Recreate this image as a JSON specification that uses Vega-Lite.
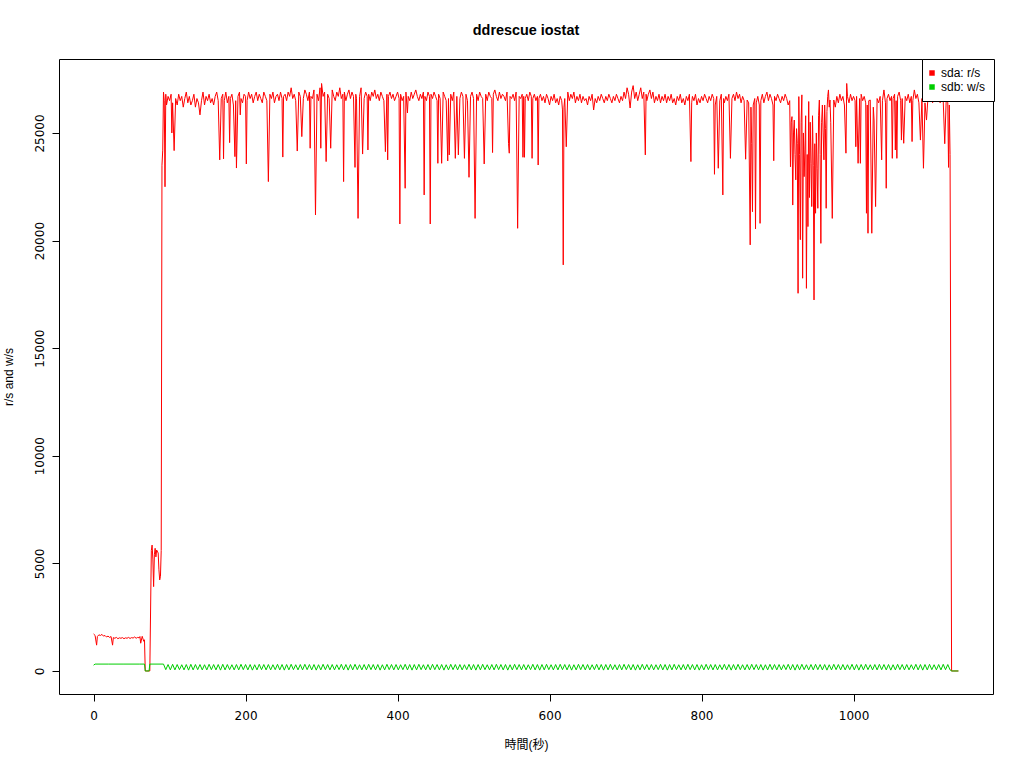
{
"$schema":"https://vega.github.io/schema/vega-lite/v6.json",
"width":934,"height":635,
"autosize":{"type":"none"},
"padding":{"left":59,"top":59,"right":31,"bottom":74},
"background":"white",
"title":{"text":"ddrescue iostat","font":"Liberation Sans","fontSize":14.4,"fontWeight":"bold","color":"black","anchor":"middle","frame":"group","baseline":"alphabetic","offset":9},
"config":{"view":{"stroke":"black","strokeWidth":1},
"axis":{"domain":false,"grid":false,"ticks":true,"tickColor":"black","tickSize":7,"tickWidth":1,"labelFont":"DejaVu Sans","labelFontSize":12,"labelColor":"black","titleFont":"Liberation Sans, Noto Sans CJK JP, sans-serif","titleFontSize":12,"titleFontWeight":"normal","titleColor":"black"}},
"data":{"values":[
{"t":0,"a":1720},{"t":2,"a":1650},{"t":4,"a":1200},{"t":5,"a":1600},{"t":7,"a":1680},{"t":9,"a":1650},{"t":11,"a":1700},{"t":13,"a":1620},{"t":15,"a":1650},{"t":17,"a":1580},{"t":19,"a":1620},{"t":21,"a":1560},{"t":23,"a":1600},{"t":25,"a":1200},{"t":26,"a":1550},{"t":28,"a":1520},{"t":30,"a":1560},{"t":32,"a":1500},{"t":34,"a":1540},{"t":36,"a":1520},{"t":38,"a":1550},{"t":40,"a":1500},{"t":42,"a":1540},{"t":44,"a":1520},{"t":46,"a":1560},{"t":48,"a":1510},{"t":50,"a":1550},{"t":52,"a":1530},{"t":54,"a":1580},{"t":56,"a":1520},{"t":58,"a":1560},{"t":60,"a":1540},{"t":61,"a":1600},{"t":62,"a":1290},{"t":64,"a":1610},{"t":66,"a":1380},{"t":67,"a":1450},{"t":68,"a":0},{"t":70,"a":0},{"t":72,"a":0},{"t":74,"a":0},{"t":76,"a":5600},{"t":77,"a":5850},{"t":78,"a":5200},{"t":79,"a":3920},{"t":80,"a":5400},{"t":81,"a":5700},{"t":82,"a":5300},{"t":83,"a":5620},{"t":85,"a":5480},{"t":86,"a":4700},{"t":87,"a":4230},{"t":88,"a":4400},{"t":89,"a":5600},{"t":90,"a":23500},{"t":91,"a":24200},{"t":92,"a":26900},{"t":93,"a":26500},{"t":94,"a":22500},{"t":95,"a":26800},
{"t":96,"a":26300},{"t":98,"a":26700},{"t":100,"a":26500},{"t":102,"a":26800},{"t":103,"a":25000},{"t":104,"a":26400},{"t":106,"a":24180},{"t":108,"a":26600},{"t":110,"a":26300},{"t":112,"a":26800},{"t":114,"a":26500},{"t":116,"a":26700},{"t":118,"a":26200},{"t":120,"a":26600},{"t":122,"a":26900},{"t":124,"a":26400},{"t":126,"a":26700},{"t":128,"a":26300},{"t":130,"a":26500},{"t":132,"a":26800},{"t":134,"a":26200},{"t":136,"a":26600},{"t":138,"a":26400},{"t":140,"a":25840},{"t":142,"a":26500},{"t":144,"a":26900},{"t":146,"a":26300},{"t":148,"a":26700},{"t":150,"a":26500},{"t":152,"a":26800},{"t":154,"a":26400},{"t":156,"a":26600},{"t":158,"a":26300},{"t":160,"a":26700},{"t":162,"a":26900},{"t":164,"a":26500},{"t":166,"a":23750},{"t":168,"a":26600},{"t":170,"a":26800},{"t":171,"a":23800},{"t":172,"a":26500},{"t":174,"a":26900},{"t":176,"a":26400},{"t":178,"a":26700},{"t":179,"a":24550},{"t":180,"a":26600},{"t":182,"a":26800},{"t":184,"a":26300},{"t":186,"a":23900},{"t":187,"a":26500},{"t":188,"a":23370},{"t":190,"a":26700},{"t":192,"a":26900},{"t":193,"a":25840},{"t":194,"a":26600},{"t":196,"a":26400},{"t":198,"a":26800},{"t":200,"a":26700},{"t":201,"a":23560},{"t":202,"a":26500},{"t":204,"a":26900},{"t":206,"a":26600},{"t":208,"a":26800},{"t":210,"a":26400},{"t":212,"a":26700},{"t":214,"a":26900},{"t":216,"a":26500},{"t":218,"a":26800},{"t":220,"a":26600},{"t":222,"a":26400},{"t":224,"a":26900},{"t":226,"a":26700},{"t":228,"a":26500},{"t":230,"a":22740},{"t":232,"a":26800},{"t":234,"a":26600},{"t":236,"a":26900},{"t":238,"a":26400},{"t":240,"a":26700},{"t":242,"a":26800},{"t":244,"a":26500},{"t":246,"a":26900},{"t":248,"a":26600},{"t":249,"a":23880},{"t":250,"a":26700},{"t":252,"a":26800},{"t":254,"a":26500},{"t":256,"a":26900},{"t":258,"a":26700},{"t":260,"a":27100},{"t":262,"a":26600},{"t":264,"a":26800},{"t":266,"a":26500},{"t":268,"a":24160},{"t":270,"a":26900},{"t":272,"a":26700},{"t":274,"a":24830},{"t":276,"a":26600},{"t":278,"a":27000},{"t":280,"a":26800},{"t":282,"a":26500},{"t":284,"a":26900},{"t":285,"a":24290},{"t":286,"a":26700},{"t":288,"a":26600},{"t":290,"a":27000},{"t":292,"a":21190},{"t":294,"a":26800},{"t":296,"a":26500},{"t":298,"a":27100},{"t":299,"a":24290},{"t":300,"a":27300},{"t":302,"a":26700},{"t":304,"a":26900},{"t":306,"a":23670},{"t":308,"a":26800},{"t":310,"a":26600},{"t":312,"a":24290},{"t":314,"a":27000},{"t":316,"a":26700},{"t":318,"a":26500},{"t":320,"a":26900},{"t":322,"a":26700},{"t":324,"a":27100},{"t":326,"a":26600},{"t":328,"a":26800},{"t":329,"a":22740},{"t":330,"a":26900},{"t":332,"a":26500},{"t":334,"a":26800},{"t":336,"a":27000},{"t":338,"a":26600},{"t":340,"a":26900},{"t":342,"a":26700},{"t":344,"a":23400},{"t":345,"a":26800},{"t":346,"a":26600},{"t":348,"a":21030},{"t":350,"a":26700},{"t":352,"a":27100},{"t":354,"a":24020},{"t":356,"a":26600},{"t":358,"a":26900},{"t":360,"a":26700},{"t":361,"a":24210},{"t":362,"a":26800},{"t":364,"a":26500},{"t":366,"a":26900},{"t":368,"a":26700},{"t":370,"a":27000},{"t":372,"a":26600},{"t":374,"a":26800},{"t":376,"a":26500},{"t":378,"a":26900},{"t":380,"a":26700},{"t":382,"a":26500},{"t":384,"a":24130},{"t":386,"a":26800},{"t":387,"a":23750},{"t":388,"a":26700},{"t":390,"a":26900},{"t":392,"a":26600},{"t":394,"a":26800},{"t":396,"a":26500},{"t":398,"a":26700},{"t":400,"a":26900},{"t":402,"a":26600},{"t":403,"a":20770},{"t":404,"a":26800},{"t":406,"a":26500},{"t":408,"a":26700},{"t":410,"a":22430},{"t":411,"a":26900},{"t":413,"a":25930},{"t":414,"a":26700},{"t":416,"a":26500},{"t":418,"a":26900},{"t":420,"a":26600},{"t":422,"a":26800},{"t":424,"a":27000},{"t":426,"a":26700},{"t":428,"a":26500},{"t":430,"a":26800},{"t":432,"a":26600},{"t":434,"a":26900},{"t":435,"a":22120},{"t":436,"a":26700},{"t":438,"a":26500},{"t":440,"a":26900},{"t":442,"a":26700},{"t":443,"a":20770},{"t":444,"a":26800},{"t":446,"a":26600},{"t":448,"a":26900},{"t":450,"a":26700},{"t":452,"a":26500},{"t":453,"a":23590},{"t":454,"a":26800},{"t":456,"a":26600},{"t":458,"a":23590},{"t":460,"a":26900},{"t":462,"a":26700},{"t":464,"a":26500},{"t":466,"a":23700},{"t":467,"a":26600},{"t":468,"a":23980},{"t":470,"a":26800},{"t":472,"a":26500},{"t":474,"a":26900},{"t":476,"a":23820},{"t":478,"a":26700},{"t":480,"a":23980},{"t":482,"a":26600},{"t":484,"a":26900},{"t":486,"a":26700},{"t":488,"a":23820},{"t":490,"a":26800},{"t":492,"a":26500},{"t":494,"a":22940},{"t":496,"a":26700},{"t":498,"a":26900},{"t":500,"a":26600},{"t":502,"a":21030},{"t":504,"a":26800},{"t":506,"a":26500},{"t":508,"a":26900},{"t":510,"a":26700},{"t":512,"a":26600},{"t":514,"a":23560},{"t":516,"a":26800},{"t":518,"a":26500},{"t":520,"a":26900},{"t":522,"a":26700},{"t":524,"a":26600},{"t":525,"a":24090},{"t":526,"a":26800},{"t":528,"a":27000},{"t":530,"a":26700},{"t":532,"a":26500},{"t":534,"a":26900},{"t":536,"a":26600},{"t":538,"a":26800},{"t":540,"a":26700},{"t":542,"a":26500},{"t":544,"a":26900},{"t":546,"a":24520},{"t":547,"a":24060},{"t":548,"a":26700},{"t":550,"a":26600},{"t":552,"a":26800},{"t":554,"a":26500},{"t":556,"a":26900},{"t":558,"a":20570},{"t":560,"a":26700},{"t":562,"a":26600},{"t":564,"a":26800},{"t":565,"a":23870},{"t":566,"a":26700},{"t":567,"a":23870},{"t":568,"a":26600},{"t":570,"a":26800},{"t":572,"a":26500},{"t":574,"a":26900},{"t":576,"a":26700},{"t":577,"a":23820},{"t":578,"a":26600},{"t":580,"a":26800},{"t":582,"a":26500},{"t":584,"a":26700},{"t":585,"a":23510},{"t":586,"a":26600},{"t":588,"a":26800},{"t":590,"a":26500},{"t":592,"a":26700},{"t":594,"a":26400},{"t":596,"a":26800},{"t":598,"a":26600},{"t":600,"a":26300},{"t":602,"a":26700},{"t":604,"a":26500},{"t":606,"a":26800},{"t":608,"a":26400},{"t":610,"a":26600},{"t":612,"a":26300},{"t":614,"a":26700},{"t":616,"a":26500},{"t":617,"a":26070},{"t":618,"a":18870},{"t":619,"a":26200},{"t":620,"a":26600},{"t":622,"a":24360},{"t":624,"a":26900},{"t":626,"a":26500},{"t":628,"a":26800},{"t":630,"a":26600},{"t":632,"a":26900},{"t":634,"a":26400},{"t":636,"a":26700},{"t":638,"a":26500},{"t":640,"a":26800},{"t":642,"a":26400},{"t":644,"a":26700},{"t":646,"a":26500},{"t":648,"a":26600},{"t":650,"a":26300},{"t":652,"a":26700},{"t":654,"a":26500},{"t":656,"a":26800},{"t":658,"a":26070},{"t":660,"a":26600},{"t":662,"a":26400},{"t":664,"a":26700},{"t":666,"a":26500},{"t":668,"a":26800},{"t":670,"a":26600},{"t":672,"a":26400},{"t":674,"a":26700},{"t":676,"a":26500},{"t":678,"a":26800},{"t":680,"a":26600},{"t":682,"a":26400},{"t":684,"a":26700},{"t":686,"a":26500},{"t":688,"a":26800},{"t":690,"a":26600},{"t":692,"a":26400},{"t":694,"a":26700},{"t":696,"a":26500},{"t":698,"a":26900},{"t":700,"a":26600},{"t":702,"a":27100},{"t":704,"a":26800},{"t":706,"a":26160},{"t":708,"a":26900},{"t":710,"a":27200},{"t":712,"a":26600},{"t":714,"a":26900},{"t":716,"a":26500},{"t":718,"a":26800},{"t":720,"a":27100},{"t":722,"a":26600},{"t":724,"a":26900},{"t":726,"a":23980},{"t":727,"a":26800},{"t":728,"a":26500},{"t":730,"a":26800},{"t":732,"a":27000},{"t":734,"a":26600},{"t":736,"a":26900},{"t":738,"a":26400},{"t":740,"a":26700},{"t":742,"a":26500},{"t":744,"a":26800},{"t":746,"a":26400},{"t":748,"a":26700},{"t":750,"a":26500},{"t":752,"a":26800},{"t":754,"a":26400},{"t":756,"a":26700},{"t":758,"a":26500},{"t":760,"a":26800},{"t":762,"a":26400},{"t":764,"a":26600},{"t":766,"a":26300},{"t":768,"a":26700},{"t":770,"a":26500},{"t":772,"a":26800},{"t":774,"a":26400},{"t":776,"a":26600},{"t":778,"a":26300},{"t":780,"a":26700},{"t":782,"a":26500},{"t":784,"a":26800},{"t":786,"a":23670},{"t":787,"a":26400},{"t":788,"a":26700},{"t":790,"a":26500},{"t":792,"a":26800},{"t":794,"a":26300},{"t":796,"a":26600},{"t":798,"a":26400},{"t":800,"a":26700},{"t":802,"a":26500},{"t":804,"a":26800},{"t":806,"a":26600},{"t":808,"a":26400},{"t":810,"a":26700},{"t":812,"a":26500},{"t":814,"a":26800},{"t":816,"a":26600},{"t":817,"a":23080},{"t":818,"a":26300},{"t":820,"a":26700},{"t":822,"a":23360},{"t":824,"a":26500},{"t":826,"a":26800},{"t":828,"a":22120},{"t":829,"a":26600},{"t":830,"a":26400},{"t":832,"a":26700},{"t":834,"a":26500},{"t":836,"a":26800},{"t":838,"a":23820},{"t":840,"a":26600},{"t":842,"a":26800},{"t":844,"a":26500},{"t":846,"a":26900},{"t":848,"a":26600},{"t":850,"a":26800},{"t":852,"a":26400},{"t":854,"a":26700},{"t":856,"a":26500},{"t":858,"a":23780},{"t":860,"a":26530},{"t":862,"a":26400},{"t":864,"a":19800},{"t":865,"a":26200},{"t":866,"a":24520},{"t":867,"a":21340},{"t":868,"a":26300},{"t":870,"a":26600},{"t":871,"a":20540},{"t":872,"a":26400},{"t":874,"a":26700},{"t":876,"a":26300},{"t":877,"a":20800},{"t":878,"a":26500},{"t":880,"a":26800},{"t":882,"a":26400},{"t":884,"a":26700},{"t":886,"a":26900},{"t":888,"a":26500},{"t":890,"a":26800},{"t":892,"a":26600},{"t":894,"a":26300},{"t":895,"a":23710},{"t":896,"a":26700},{"t":898,"a":26500},{"t":900,"a":26800},{"t":902,"a":26600},{"t":904,"a":26400},{"t":906,"a":26700},{"t":908,"a":26500},{"t":910,"a":26800},{"t":912,"a":26600},{"t":914,"a":26300},{"t":916,"a":26500},{"t":917,"a":23430},{"t":918,"a":25500},{"t":919,"a":25760},{"t":920,"a":21650},{"t":921,"a":25000},{"t":922,"a":25600},{"t":923,"a":24000},{"t":924,"a":22820},{"t":925,"a":25200},{"t":926,"a":24500},{"t":927,"a":17550},{"t":928,"a":26690},{"t":929,"a":24000},{"t":930,"a":20040},{"t":931,"a":25500},{"t":932,"a":26770},{"t":933,"a":18250},{"t":934,"a":25000},{"t":935,"a":22970},{"t":936,"a":24210},{"t":937,"a":25800},{"t":938,"a":17780},{"t":939,"a":24000},{"t":940,"a":20650},{"t":941,"a":26460},{"t":942,"a":22000},{"t":943,"a":25500},{"t":944,"a":23590},{"t":945,"a":21580},{"t":946,"a":25800},{"t":947,"a":23500},{"t":948,"a":17240},{"t":949,"a":24500},{"t":950,"a":21270},{"t":951,"a":25000},{"t":952,"a":23360},{"t":953,"a":21500},{"t":954,"a":25800},{"t":955,"a":26530},{"t":956,"a":24000},{"t":957,"a":19870},{"t":958,"a":25500},{"t":959,"a":26300},{"t":960,"a":25000},{"t":961,"a":23750},{"t":962,"a":26300},{"t":963,"a":25200},{"t":964,"a":21500},{"t":965,"a":26000},{"t":966,"a":26700},{"t":967,"a":27000},{"t":968,"a":26200},{"t":969,"a":26530},{"t":970,"a":25500},{"t":972,"a":21030},{"t":974,"a":26530},{"t":976,"a":26200},{"t":978,"a":26700},{"t":980,"a":26400},{"t":982,"a":26800},{"t":984,"a":26500},{"t":986,"a":26700},{"t":988,"a":26300},{"t":990,"a":24060},{"t":991,"a":27300},{"t":992,"a":26700},{"t":994,"a":26400},{"t":996,"a":26800},{"t":998,"a":26500},{"t":1000,"a":26700},{"t":1002,"a":26500},{"t":1003,"a":24360},{"t":1004,"a":26700},{"t":1006,"a":23590},{"t":1008,"a":26600},{"t":1009,"a":23590},{"t":1010,"a":26800},{"t":1012,"a":26500},{"t":1014,"a":26700},{"t":1016,"a":26400},{"t":1017,"a":21270},{"t":1018,"a":26300},{"t":1019,"a":20340},{"t":1020,"a":26500},{"t":1022,"a":26530},{"t":1024,"a":20340},{"t":1026,"a":26200},{"t":1027,"a":25600},{"t":1029,"a":21580},{"t":1031,"a":26600},{"t":1033,"a":26400},{"t":1035,"a":26700},{"t":1037,"a":23750},{"t":1038,"a":26500},{"t":1040,"a":27000},{"t":1042,"a":26400},{"t":1043,"a":22430},{"t":1044,"a":26600},{"t":1046,"a":26800},{"t":1048,"a":26500},{"t":1050,"a":26700},{"t":1051,"a":23820},{"t":1052,"a":26600},{"t":1054,"a":26800},{"t":1055,"a":24210},{"t":1056,"a":26500},{"t":1057,"a":23820},{"t":1058,"a":26700},{"t":1060,"a":26900},{"t":1062,"a":26500},{"t":1063,"a":24670},{"t":1064,"a":26600},{"t":1066,"a":24520},{"t":1068,"a":26700},{"t":1070,"a":26500},{"t":1072,"a":26800},{"t":1074,"a":26400},{"t":1076,"a":26700},{"t":1077,"a":24600},{"t":1078,"a":26500},{"t":1080,"a":27000},{"t":1082,"a":26600},{"t":1084,"a":26800},{"t":1086,"a":26400},{"t":1088,"a":24670},{"t":1090,"a":26600},{"t":1092,"a":23360},{"t":1094,"a":26400},{"t":1096,"a":25600},{"t":1098,"a":26700},{"t":1100,"a":26500},{"t":1102,"a":26800},{"t":1104,"a":26400},{"t":1106,"a":26700},{"t":1108,"a":26500},{"t":1110,"a":26800},{"t":1112,"a":26600},{"t":1114,"a":26400},{"t":1116,"a":26700},{"t":1118,"a":26500},{"t":1120,"a":24500},{"t":1122,"a":26600},{"t":1124,"a":26400},{"t":1125,"a":23400},{"t":1126,"a":26300},{"t":1127,"a":24000},{"t":1129,"a":0},{"t":1131,"a":0},{"t":1138,"a":0},
{"t":0,"b":270},{"t":2,"b":320},{"t":20,"b":320},{"t":40,"b":320},{"t":60,"b":320},{"t":67,"b":320},{"t":68,"b":0},{"t":73,"b":0},{"t":74,"b":320},{"t":92,"b":320},
{"t":95,"b":60},{"t":98,"b":300},{"t":101,"b":50},{"t":104,"b":310},{"t":107,"b":50},{"t":110,"b":300},{"t":113,"b":60},{"t":116,"b":290},{"t":119,"b":50},{"t":122,"b":300},{"t":125,"b":40},{"t":128,"b":310},{"t":131,"b":50},{"t":134,"b":300},{"t":137,"b":60},{"t":140,"b":300},{"t":143,"b":50},{"t":146,"b":290},{"t":149,"b":50},{"t":152,"b":310},{"t":155,"b":60},{"t":158,"b":300},{"t":161,"b":50},{"t":164,"b":300},{"t":167,"b":40},{"t":170,"b":310},{"t":173,"b":50},{"t":176,"b":300},{"t":179,"b":60},{"t":182,"b":290},{"t":185,"b":50},{"t":188,"b":300},{"t":191,"b":50},{"t":194,"b":310},{"t":197,"b":60},{"t":200,"b":300},{"t":203,"b":50},{"t":206,"b":300},{"t":209,"b":40},{"t":212,"b":290},{"t":215,"b":50},{"t":218,"b":310},{"t":221,"b":60},{"t":224,"b":300},{"t":227,"b":50},{"t":230,"b":300},{"t":233,"b":50},{"t":236,"b":290},{"t":239,"b":60},{"t":242,"b":310},{"t":245,"b":50},{"t":248,"b":300},{"t":251,"b":40},{"t":254,"b":300},{"t":257,"b":50},{"t":260,"b":310},{"t":263,"b":60},{"t":266,"b":290},{"t":269,"b":50},{"t":272,"b":300},{"t":275,"b":50},{"t":278,"b":310},{"t":281,"b":60},{"t":284,"b":300},{"t":287,"b":50},{"t":290,"b":300},{"t":293,"b":40},{"t":296,"b":290},{"t":299,"b":50},{"t":302,"b":310},{"t":305,"b":60},{"t":308,"b":300},{"t":311,"b":50},{"t":314,"b":300},{"t":317,"b":50},{"t":320,"b":290},{"t":323,"b":60},{"t":326,"b":310},{"t":329,"b":50},{"t":332,"b":300},{"t":335,"b":40},{"t":338,"b":300},{"t":341,"b":50},{"t":344,"b":310},{"t":347,"b":60},{"t":350,"b":290},{"t":353,"b":50},{"t":356,"b":300},{"t":359,"b":50},{"t":362,"b":310},{"t":365,"b":60},{"t":368,"b":300},{"t":371,"b":50},{"t":374,"b":300},{"t":377,"b":40},{"t":380,"b":290},{"t":383,"b":50},{"t":386,"b":310},{"t":389,"b":60},{"t":392,"b":300},{"t":395,"b":50},{"t":398,"b":300},{"t":401,"b":50},{"t":404,"b":290},{"t":407,"b":60},{"t":410,"b":310},{"t":413,"b":50},{"t":416,"b":300},{"t":419,"b":40},{"t":422,"b":300},{"t":425,"b":50},{"t":428,"b":310},{"t":431,"b":60},{"t":434,"b":290},{"t":437,"b":50},{"t":440,"b":300},{"t":443,"b":50},{"t":446,"b":310},{"t":449,"b":60},{"t":452,"b":300},{"t":455,"b":50},{"t":458,"b":300},{"t":461,"b":40},{"t":464,"b":290},{"t":467,"b":50},{"t":470,"b":310},{"t":473,"b":60},{"t":476,"b":300},{"t":479,"b":50},{"t":482,"b":300},{"t":485,"b":50},{"t":488,"b":290},{"t":491,"b":60},{"t":494,"b":310},{"t":497,"b":50},{"t":500,"b":300},{"t":503,"b":40},{"t":506,"b":300},{"t":509,"b":50},{"t":512,"b":310},{"t":515,"b":60},{"t":518,"b":290},{"t":521,"b":50},{"t":524,"b":300},{"t":527,"b":50},{"t":530,"b":310},{"t":533,"b":60},{"t":536,"b":300},{"t":539,"b":50},{"t":542,"b":300},{"t":545,"b":40},{"t":548,"b":290},{"t":551,"b":50},{"t":554,"b":310},{"t":557,"b":60},{"t":560,"b":300},{"t":563,"b":50},{"t":566,"b":300},{"t":569,"b":50},{"t":572,"b":290},{"t":575,"b":60},{"t":578,"b":310},{"t":581,"b":50},{"t":584,"b":300},{"t":587,"b":40},{"t":590,"b":300},{"t":593,"b":50},{"t":596,"b":310},{"t":599,"b":60},{"t":602,"b":290},{"t":605,"b":50},{"t":608,"b":300},{"t":611,"b":50},{"t":614,"b":310},{"t":617,"b":60},{"t":620,"b":300},{"t":623,"b":50},{"t":626,"b":300},{"t":629,"b":40},{"t":632,"b":290},{"t":635,"b":50},{"t":638,"b":310},{"t":641,"b":60},{"t":644,"b":300},{"t":647,"b":50},{"t":650,"b":300},{"t":653,"b":50},{"t":656,"b":290},{"t":659,"b":60},{"t":662,"b":310},{"t":665,"b":50},{"t":668,"b":300},{"t":671,"b":40},{"t":674,"b":300},{"t":677,"b":50},{"t":680,"b":310},{"t":683,"b":60},{"t":686,"b":290},{"t":689,"b":50},{"t":692,"b":300},{"t":695,"b":50},{"t":698,"b":310},{"t":701,"b":60},{"t":704,"b":300},{"t":707,"b":50},{"t":710,"b":300},{"t":713,"b":40},{"t":716,"b":290},{"t":719,"b":50},{"t":722,"b":310},{"t":725,"b":60},{"t":728,"b":300},{"t":731,"b":50},{"t":734,"b":300},{"t":737,"b":50},{"t":740,"b":290},{"t":743,"b":60},{"t":746,"b":310},{"t":749,"b":50},{"t":752,"b":300},{"t":755,"b":40},{"t":758,"b":300},{"t":761,"b":50},{"t":764,"b":310},{"t":767,"b":60},{"t":770,"b":290},{"t":773,"b":50},{"t":776,"b":300},{"t":779,"b":50},{"t":782,"b":310},{"t":785,"b":60},{"t":788,"b":300},{"t":791,"b":50},{"t":794,"b":300},{"t":797,"b":40},{"t":800,"b":290},{"t":803,"b":50},{"t":806,"b":310},{"t":809,"b":60},{"t":812,"b":300},{"t":815,"b":50},{"t":818,"b":300},{"t":821,"b":50},{"t":824,"b":290},{"t":827,"b":60},{"t":830,"b":310},{"t":833,"b":50},{"t":836,"b":300},{"t":839,"b":40},{"t":842,"b":300},{"t":845,"b":50},{"t":848,"b":310},{"t":851,"b":60},{"t":854,"b":290},{"t":857,"b":50},{"t":860,"b":300},{"t":863,"b":50},{"t":866,"b":310},{"t":869,"b":60},{"t":872,"b":300},{"t":875,"b":50},{"t":878,"b":300},{"t":881,"b":40},{"t":884,"b":290},{"t":887,"b":50},{"t":890,"b":310},{"t":893,"b":60},{"t":896,"b":300},{"t":899,"b":50},{"t":902,"b":300},{"t":905,"b":50},{"t":908,"b":290},{"t":911,"b":60},{"t":914,"b":310},{"t":917,"b":50},{"t":920,"b":300},{"t":923,"b":40},{"t":926,"b":300},{"t":929,"b":50},{"t":932,"b":310},{"t":935,"b":60},{"t":938,"b":290},{"t":941,"b":50},{"t":944,"b":300},{"t":947,"b":50},{"t":950,"b":310},{"t":953,"b":60},{"t":956,"b":300},{"t":959,"b":50},{"t":962,"b":300},{"t":965,"b":40},{"t":968,"b":290},{"t":971,"b":50},{"t":974,"b":310},{"t":977,"b":60},{"t":980,"b":300},{"t":983,"b":50},{"t":986,"b":300},{"t":989,"b":50},{"t":992,"b":290},{"t":995,"b":60},{"t":998,"b":310},{"t":1001,"b":50},{"t":1004,"b":300},{"t":1007,"b":40},{"t":1010,"b":300},{"t":1013,"b":50},{"t":1016,"b":310},{"t":1019,"b":60},{"t":1022,"b":290},{"t":1025,"b":50},{"t":1028,"b":300},{"t":1031,"b":50},{"t":1034,"b":310},{"t":1037,"b":60},{"t":1040,"b":300},{"t":1043,"b":50},{"t":1046,"b":300},{"t":1049,"b":40},{"t":1052,"b":290},{"t":1055,"b":50},{"t":1058,"b":310},{"t":1061,"b":60},{"t":1064,"b":300},{"t":1067,"b":50},{"t":1070,"b":300},{"t":1073,"b":50},{"t":1076,"b":290},{"t":1079,"b":60},{"t":1082,"b":310},{"t":1085,"b":50},{"t":1088,"b":300},{"t":1091,"b":40},{"t":1094,"b":300},{"t":1097,"b":50},{"t":1100,"b":310},{"t":1103,"b":60},{"t":1106,"b":290},{"t":1109,"b":50},{"t":1112,"b":300},{"t":1115,"b":50},{"t":1118,"b":310},{"t":1121,"b":60},{"t":1124,"b":300},{"t":1127,"b":50},{"t":1129,"b":0},{"t":1138,"b":0}
]},
"transform":[{"fold":["a","b"],"as":["s","v"]},{"filter":"isValid(datum.v)"}],
"mark":{"type":"line","strokeWidth":1,"clip":true},
"encoding":{
"x":{"field":"t","type":"quantitative","scale":{"domain":[-45.5,1183.5],"nice":false,"zero":false},"axis":{"values":[0,200,400,600,800,1000],"format":"d","title":"時間(秒)","labelPadding":9,"titlePadding":18,"labelFlush":false,"labelOverlap":false}},
"y":{"field":"v","type":"quantitative","scale":{"domain":[-1070,28437],"nice":false,"zero":false},"axis":{"values":[0,5000,10000,15000,20000,25000],"format":"d","title":"r/s and w/s","labelAngle":-90,"labelAlign":"center","labelBaseline":"bottom","labelPadding":6,"titlePadding":18,"labelFlush":false,"labelOverlap":false}},
"color":{"field":"s","type":"nominal","scale":{"domain":["a","b"],"range":["#FF0000","#00CD00"]},
"legend":{"title":null,"orient":"none","legendX":863,"legendY":0,"strokeColor":"black","fillColor":"white","padding":8,"cornerRadius":0,"symbolType":"square","symbolSize":30,"symbolStrokeWidth":0,"symbolOffset":-4,"labelOffset":3,"labelFont":"Liberation Sans","labelFontSize":12,"labelColor":"black","rowPadding":2,"labelExpr":"datum.label == 'a' ? 'sda: r/s' : 'sdb: w/s'",
"encode":{"symbols":{"update":{"fill":{"scale":"color","field":"value"},"stroke":{"value":"transparent"}}}}}}
}
}
